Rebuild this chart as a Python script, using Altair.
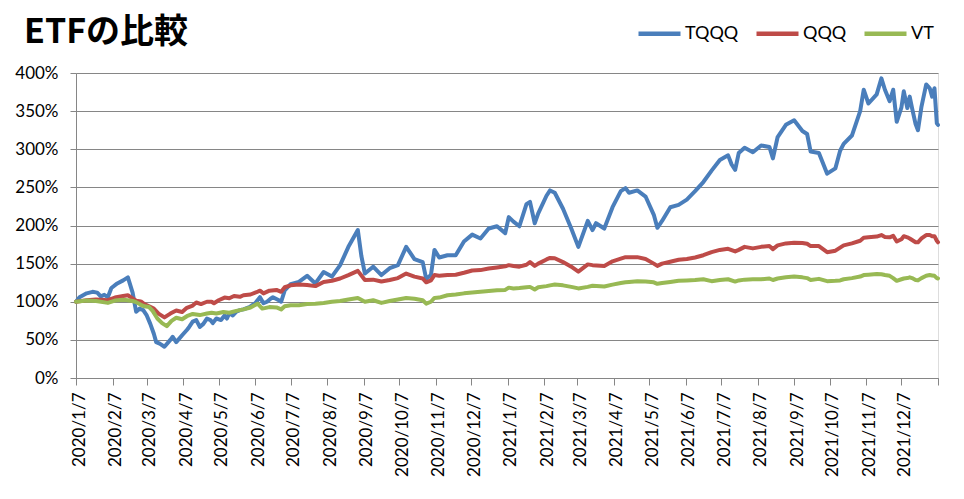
import altair as alt
import pandas as pd

START = "2020-01-07"

tqqq_day = [0, 3, 9, 14, 18, 21, 24, 27, 30, 35, 40, 44, 48, 51, 54, 57, 60, 63, 66, 68, 71, 75, 80, 82, 85, 90, 94, 96, 99, 102, 105, 108, 111, 114, 116, 119, 123, 126, 128, 130, 133, 136, 139, 142, 147, 152, 155, 156, 159, 162, 165, 167, 172, 174, 177, 182, 189, 196, 203, 210, 217, 224, 231, 239, 242, 245, 252, 259, 266, 273, 280, 287, 294, 297, 301, 304, 308, 315, 322, 329, 336, 343, 350, 357, 364, 367, 371, 376, 382, 385, 389, 392, 399, 402, 406, 413, 420, 426, 434, 438, 441, 448, 455, 462, 466, 469, 476, 483, 490, 493, 497, 504, 511, 518, 525, 532, 539, 546, 553, 556, 559, 562, 567, 574, 581, 588, 591, 595, 602, 609, 616, 620, 623, 630, 637, 644, 648, 651, 658, 665, 668, 672, 679, 683, 686, 690, 693, 696, 700, 702, 705, 707, 709, 712, 714, 717, 721, 724, 726, 728, 730, 731]
tqqq = [100, 106, 111, 113, 112, 107, 109, 106, 118, 124, 128, 132, 112, 87, 91, 89, 82, 71, 58, 47, 45, 41, 50, 54, 47, 56, 63, 67, 74, 76, 67, 71, 78, 76, 72, 78, 76, 82, 78, 85, 82, 87, 89, 90, 93, 98, 104, 106, 98, 100, 104, 106, 102, 100, 115, 123, 126, 134, 124, 139, 133, 148, 172, 194, 160, 137, 146, 135, 144, 148, 172, 156, 152, 130, 135, 168, 158, 161, 161, 179, 188, 183, 196, 199, 190, 211, 205, 199, 228, 231, 203, 216, 239, 246, 243, 222, 196, 172, 206, 194, 203, 196, 224, 245, 249, 243, 246, 238, 214, 197, 206, 224, 227, 234, 245, 257, 272, 286, 292, 280, 273, 295, 302, 296, 305, 303, 288, 316, 332, 338, 324, 320, 297, 295, 268, 275, 298, 307, 318, 350, 378, 360, 372, 393, 378, 363, 378, 336, 355, 376, 354, 369, 354, 333, 325, 356, 385, 380, 369, 380, 334, 332]

qqq_day = [0, 9, 17, 27, 33, 40, 44, 48, 51, 55, 58, 62, 66, 70, 75, 80, 85, 90, 94, 99, 102, 106, 111, 115, 117, 121, 126, 130, 134, 139, 142, 148, 153, 156, 159, 164, 170, 174, 177, 182, 189, 196, 203, 210, 217, 224, 231, 239, 245, 252, 259, 266, 273, 280, 287, 294, 297, 301, 304, 308, 315, 322, 329, 336, 343, 350, 357, 364, 367, 371, 376, 382, 385, 389, 392, 399, 402, 406, 413, 420, 426, 434, 438, 448, 455, 462, 466, 469, 476, 483, 490, 493, 497, 504, 511, 518, 525, 532, 539, 546, 553, 559, 562, 567, 574, 581, 588, 591, 595, 602, 609, 616, 620, 623, 630, 637, 644, 648, 651, 658, 665, 668, 672, 679, 683, 686, 690, 693, 696, 700, 702, 705, 707, 709, 712, 714, 717, 721, 724, 726, 728, 730, 731]
qqq = [100, 102, 103, 102, 105.5, 107.5, 108.5, 104.5, 101.5, 100.5, 97, 94, 91, 84.5, 79.5, 84.5, 88.5, 86.5, 92, 95, 99, 97, 100, 100, 98, 102, 105.5, 104.5, 107.5, 106.5, 108.5, 109.5, 112.5, 114.5, 111, 114.5, 115.5, 113, 119, 121.5, 122.5, 122, 120.5, 126, 127.5, 130.5, 135, 140.5, 128.5, 129, 126.5, 128.5, 131, 137, 133, 130.5, 125.5, 128, 135, 134, 135, 135.5, 138, 141, 141.5, 143.5, 145, 146.5, 148, 147, 146, 148.5, 152, 147, 150, 155.5, 157.5, 157, 152, 146, 139.5, 149, 148, 147, 153, 156.5, 158.5, 158.5, 158.5, 156, 150, 147, 150, 152.5, 155, 156, 158, 161, 165, 168, 169.5, 166, 168, 172, 170, 172, 173, 169, 174, 176.5, 177.5, 177, 176, 173, 173, 165, 167, 171, 174, 176.5, 180, 184, 184.5, 185.5, 187.5, 185, 184.5, 186.5, 179, 182, 186, 184.5, 183, 181, 178, 178, 183, 187.5, 187.5, 186, 186, 180, 178]

vt_day = [0, 9, 17, 27, 33, 40, 44, 48, 51, 55, 58, 62, 65, 69, 73, 77, 81, 85, 90, 94, 99, 105, 111, 115, 119, 125, 130, 136, 142, 148, 154, 158, 164, 170, 174, 177, 182, 189, 196, 203, 210, 217, 224, 231, 239, 245, 252, 259, 266, 273, 280, 287, 294, 297, 301, 304, 308, 315, 322, 329, 336, 343, 350, 357, 364, 367, 371, 376, 382, 385, 389, 392, 399, 402, 406, 413, 420, 426, 434, 438, 448, 455, 462, 466, 469, 476, 483, 490, 493, 497, 504, 511, 518, 525, 532, 539, 546, 553, 559, 562, 567, 574, 581, 588, 591, 595, 602, 609, 616, 620, 623, 630, 637, 644, 648, 651, 658, 665, 668, 672, 679, 683, 686, 690, 693, 696, 700, 702, 705, 707, 709, 712, 714, 717, 721, 724, 726, 728, 730, 731]
vt = [100, 101.5, 101, 98.5, 101.5, 102.5, 102, 101, 99.5, 96, 94, 93, 88, 78, 72, 68, 75, 79, 77, 81, 84, 82.5, 84.5, 85.5, 84.5, 86.5, 85.5, 88, 90, 92.5, 97.5, 91, 93, 92.5, 90, 94, 95.5, 95.5, 97, 97.5, 98.5, 100, 101, 103, 105, 100, 102, 98.5, 101, 103, 105, 104, 102, 97.5, 100, 105, 105.5, 108.5, 109.5, 111, 112, 113, 114, 115, 115.5, 118.5, 117.5, 118, 119, 119.5, 116, 119, 120.5, 121.5, 122.5, 121.5, 119.5, 117.5, 119.5, 121, 120, 122.5, 124.5, 125.5, 126, 127, 126.5, 125.5, 123.5, 124.5, 126, 127.5, 128, 128.5, 129.5, 127, 128.5, 129.5, 126.5, 128, 129, 129.5, 129.5, 130.5, 128.5, 130.5, 132, 133, 132, 131, 128.5, 130, 127, 127.5, 128, 129.5, 131, 133, 135, 135.5, 136.5, 136, 135, 134, 131, 127.5, 129.5, 130.5, 131, 132, 131, 128.5, 128, 131, 134, 135, 134.5, 134, 131, 130.5]

series_names = ["TQQQ", "QQQ", "VT"]
series_colors = ["#4A7EBB", "#BE4B48", "#98B954"]

tick_dates = ["2020-01-07", "2020-02-07", "2020-03-07", "2020-04-07", "2020-05-07", "2020-06-07",
              "2020-07-07", "2020-08-07", "2020-09-07", "2020-10-07", "2020-11-07", "2020-12-07",
              "2021-01-07", "2021-02-07", "2021-03-07", "2021-04-07", "2021-05-07", "2021-06-07",
              "2021-07-07", "2021-08-07", "2021-09-07", "2021-10-07", "2021-11-07", "2021-12-07",
              "2022-01-07"]
y_ticks = [0, 50, 100, 150, 200, 250, 300, 350, 400]

frames = []
for name, days, vals in [("TQQQ", tqqq_day, tqqq), ("QQQ", qqq_day, qqq), ("VT", vt_day, vt)]:
    d = pd.Timestamp(START) + pd.to_timedelta(days, unit="D")
    frames.append(pd.DataFrame({
        "date": [x.strftime("%Y-%m-%dT00:00:00Z") for x in d],
        "value": vals,
        "series": name,
        "order": series_names.index(name),
    }))
df = pd.concat(frames, ignore_index=True)


def dt(s):
    y, m, dd = (int(p) for p in s.split("-"))
    return alt.DateTime(year=y, month=m, date=dd, utc=True)


GRID = "#868686"
FONT = "Lato"

chart = alt.Chart(df).mark_line(strokeWidth=4, strokeJoin="round", strokeCap="round").encode(
    x=alt.X("date:T",
            scale=alt.Scale(type="utc", domain=[dt(tick_dates[0]), dt(tick_dates[-1])]),
            axis=alt.Axis(values=[dt(s) for s in tick_dates],
                          labelExpr="datum.value >= utc(2022,0,1) ? '' : utcFormat(datum.value, '%Y/%-m/%-d')",
                          labelAngle=270, labelFont=FONT, labelFontSize=17, labelColor="black",
                          labelPadding=7, labelOffset=3,
                          tickSize=7, tickColor=GRID, domainColor=GRID, grid=False, title=None)),
    y=alt.Y("value:Q",
            scale=alt.Scale(domain=[0, 400]),
            axis=alt.Axis(values=y_ticks, labelExpr="datum.value + '%'",
                          labelFont=FONT, labelFontSize=17, labelColor="black", labelPadding=12,
                          tickSize=6, tickColor=GRID, domainColor=GRID,
                          grid=True, gridColor=GRID, title=None)),
    color=alt.Color("series:N",
                    scale=alt.Scale(domain=series_names, range=series_colors),
                    legend=alt.Legend(orient="none", legendX=560, legendY=-63, direction="horizontal",
                                      title=None, symbolType="stroke", symbolSize=1764,
                                      symbolStrokeWidth=4.5, labelFont=FONT, labelFontSize=18,
                                      labelColor="black", columnPadding=8, labelOffset=2)),
    order=alt.Order("order:Q"),
    detail="series:N",
).properties(
    width=862,
    height=305,
    autosize=alt.AutoSizeParams(type="none"),
    padding={"left": 68, "top": 65, "right": 18, "bottom": 113},
    title=alt.TitleParams("ETFの比較", font="Noto Sans CJK JP", fontSize=34, fontWeight="bold",
                          anchor="start", frame="group", dx=-52, dy=54, color="black", offset=14),
).configure_view(stroke=None).configure(background="white")

chart.save("out.html", embed_options={"renderer": "svg", "actions": False})
